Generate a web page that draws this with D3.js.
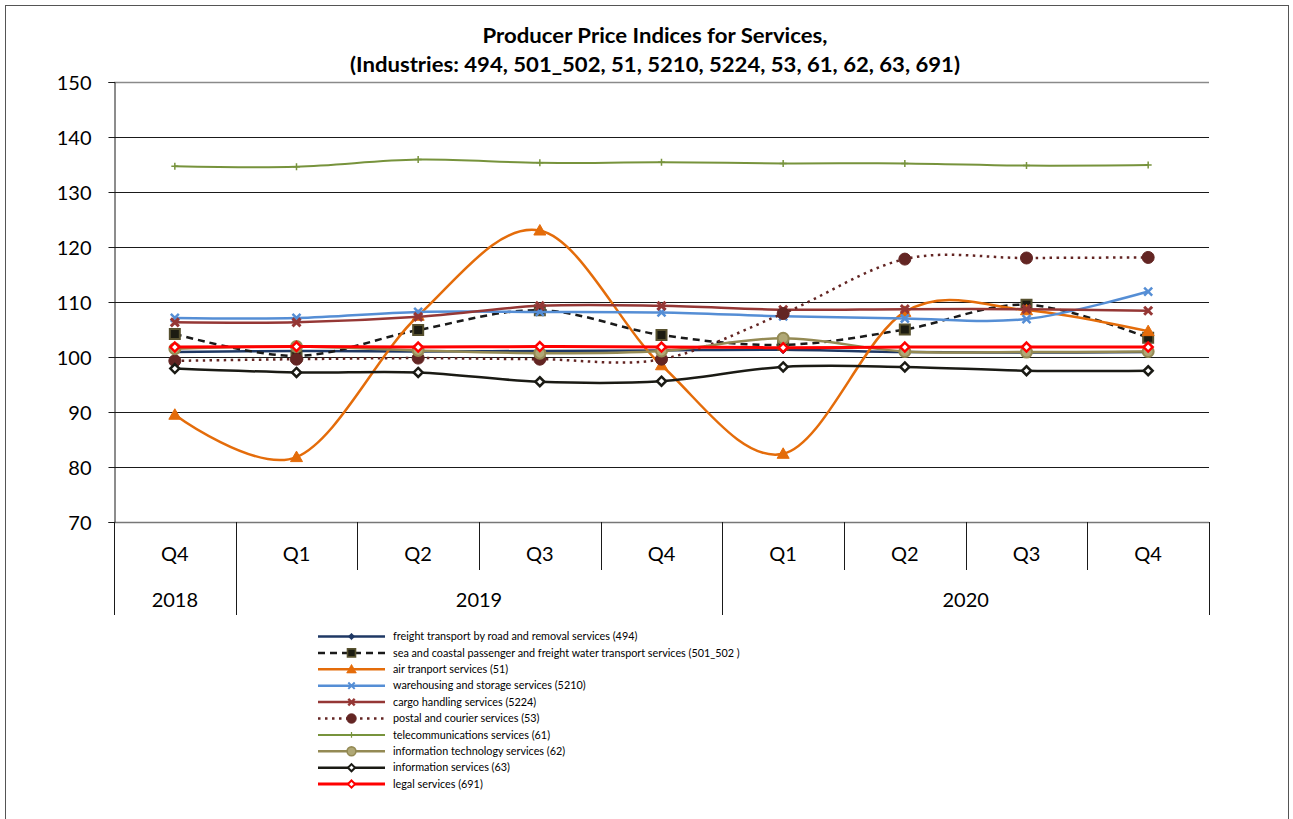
<!DOCTYPE html>
<html>
<head>
<meta charset="utf-8">
<script src="https://cdn.jsdelivr.net/npm/d3@7"></script>
<style>
html,body{margin:0;padding:0;background:#fff;}
svg{display:block;font-family:Lato,"Open Sans",sans-serif;}
</style>
</head>
<body>
<svg id="chart" width="1293" height="819"></svg>
<script>
// ---- data ----
const quarters = ["Q4","Q1","Q2","Q3","Q4","Q1","Q2","Q3","Q4"];
const years = [{label:"2018", from:0, to:0},{label:"2019", from:1, to:4},{label:"2020", from:5, to:8}];
const yTicks = [70,80,90,100,110,120,130,140,150];

const freight494   = [100.9,101.1,101.0,101.1,101.2,101.3,100.9,100.8,100.9];
const sea501_502   = [104.2,100.2,104.9,108.5,104.0,102.2,105.0,109.5,103.5];
const air51        = [89.5,81.8,107.5,123.0,98.5,82.4,108.2,108.5,104.7];
const warehouse5210= [107.1,107.1,108.2,108.2,108.1,107.4,107.0,106.9,111.9];
const cargo5224    = [106.3,106.3,107.3,109.3,109.3,108.6,108.7,108.7,108.4];
const postal53     = [99.3,99.6,99.8,99.6,99.6,107.9,117.8,118.0,118.1];
const telecom61    = [134.7,134.6,135.9,135.3,135.4,135.2,135.2,134.8,134.9];
const it62         = [101.5,101.9,101.2,100.7,101.1,103.4,101.0,100.9,101.0];
const info63       = [97.9,97.2,97.2,95.5,95.6,98.2,98.2,97.5,97.5];
const legal691     = [101.8,101.9,101.8,101.9,101.8,101.7,101.8,101.8,101.8];

const seriesNames = [
 "freight transport by road and removal services (494)",
 "sea and coastal passenger and freight water transport services (501_502 )",
 "air tranport services (51)",
 "warehousing and storage services (5210)",
 "cargo handling services (5224)",
 "postal and courier services (53)",
 "telecommunications services (61)",
 "information technology services (62)",
 "information services (63)",
 "legal services (691)"
];
const seriesValues = [freight494, sea501_502, air51, warehouse5210, cargo5224, postal53, telecom61, it62, info63, legal691];

(function(){
// ---- styles ----
const styles = [
 {color:"#1F3864", width:2.5, dash:null, marker:"diamond", size:4, fill:"#1F3864", mstroke:"#1F3864", msw:1},
 {color:"#1a1a1a", width:2.5, dash:"7,5", marker:"square", size:5, fill:"#1c1c12", mstroke:"#57512f", msw:2},
 {color:"#E46C0A", width:2.5, dash:null, marker:"triangle", size:6, fill:"#E46C0A", mstroke:"#E46C0A", msw:1},
 {color:"#558ED5", width:2.5, dash:null, marker:"x", size:4, fill:"none", mstroke:"#558ED5", msw:2.5},
 {color:"#953735", width:2.5, dash:null, marker:"x", size:4, fill:"none", mstroke:"#953735", msw:3},
 {color:"#632523", width:2.5, dash:"2.5,4.5", marker:"circle", size:6, fill:"#632523", mstroke:"#632523", msw:1},
 {color:"#77933C", width:2, dash:null, marker:"plus", size:3.5, fill:"none", mstroke:"#77933C", msw:1.5},
 {color:"#948A54", width:2.5, dash:null, marker:"circle", size:5.5, fill:"#b0a876", mstroke:"#948A54", msw:2},
 {color:"#1a1a14", width:2.5, dash:null, marker:"diamond", size:4.5, fill:"#ffffff", mstroke:"#1a1a14", msw:2.5},
 {color:"#FF0000", width:3, dash:null, marker:"diamond", size:4.5, fill:"#ffffff", mstroke:"#FF0000", msw:2.5}
];

function markerPath(type, s){
  switch(type){
    case "diamond": return `M0,${-s}L${s},0L0,${s}L${-s},0Z`;
    case "square": return `M${-s},${-s}H${s}V${s}H${-s}Z`;
    case "triangle": return `M0,${-s}L${s},${s*0.75}L${-s},${s*0.75}Z`;
    case "x": return `M${-s},${-s}L${s},${s}M${s},${-s}L${-s},${s}`;
    case "plus": return `M${-s},0H${s}M0,${-s}V${s}`;
    case "circle": return `M${s},0A${s},${s} 0 1,1 ${-s},0A${s},${s} 0 1,1 ${s},0Z`;
  }
}

const svg = d3.select("#chart");

// outer border
svg.append("rect").attr("x",5.5).attr("y",5.5).attr("width",1283).attr("height",840)
  .attr("fill","none").attr("stroke","#555").attr("stroke-width",1);

const pL = 114, pR = 1209, pT = 82, pB = 522;
const x = d3.scaleBand().domain(d3.range(quarters.length)).range([pL,pR]);
const y = d3.scaleLinear().domain([70,150]).range([pB,pT]);
const cx = i => x(i) + x.bandwidth()/2;

// title
svg.append("text").attr("x",655).attr("y",43).attr("text-anchor","middle")
  .attr("font-weight","bold").attr("font-size",21).attr("fill","#000")
  .attr("textLength",345).attr("lengthAdjust","spacingAndGlyphs")
  .text("Producer Price Indices for Services,");
svg.append("text").attr("x",655).attr("y",72).attr("text-anchor","middle")
  .attr("font-weight","bold").attr("font-size",21).attr("fill","#000")
  .attr("textLength",610).attr("lengthAdjust","spacingAndGlyphs")
  .text("(Industries: 494, 501_502, 51, 5210, 5224, 53, 61, 62, 63, 691)");

// gridlines
svg.append("g").selectAll("line").data(yTicks).join("line")
  .attr("x1",pL).attr("x2",pR)
  .attr("y1",d=>Math.round(y(d))+0.5).attr("y2",d=>Math.round(y(d))+0.5)
  .attr("stroke",d=> d===150 ? "#8a8a8a" : (d===70 ? "#777" : "#1a1a1a"))
  .attr("stroke-width",d=> (d===150||d===70) ? 1.6 : 1);

// y axis
const yAxis = d3.axisLeft(y).tickValues(yTicks).tickSize(6).tickPadding(17).tickFormat(d3.format("d"));
const ya = svg.append("g").attr("transform",`translate(${pL+0.5},0)`).call(yAxis);
ya.select(".domain").attr("stroke","#1a1a1a");
ya.selectAll(".tick line").attr("stroke","#1a1a1a");
ya.selectAll(".tick text").attr("font-size",20).attr("font-family","Lato,sans-serif").attr("fill","#000").attr("dy","0.35em");

// category axis (multi-level)
const xa = svg.append("g");
const seps = d3.range(quarters.length+1);
xa.selectAll("line.q").data(seps).join("line")
  .attr("x1",i=> Math.round(i<quarters.length ? x(i) : pR)+0.5)
  .attr("x2",i=> Math.round(i<quarters.length ? x(i) : pR)+0.5)
  .attr("y1",pB).attr("y2",i=>{
     const isYear = i===0 || i===quarters.length || years.some(yv=>yv.from===i);
     return isYear ? 615 : 570;
  })
  .attr("stroke","#1a1a1a").attr("stroke-width",1);
xa.selectAll("text.q").data(quarters).join("text")
  .attr("x",(d,i)=>cx(i)).attr("y",561).attr("text-anchor","middle")
  .attr("font-size",20).attr("fill","#000").text(d=>d);
xa.selectAll("text.yr").data(years).join("text")
  .attr("x",d=> (x(d.from) + x(d.to) + x.bandwidth())/2).attr("y",607).attr("text-anchor","middle")
  .attr("font-size",20).attr("fill","#000").text(d=>d.label);

// lines
const line = d3.line().x((d,i)=>cx(i)).y(d=>y(d)).curve(d3.curveCardinal.tension(0));
const plot = svg.append("g");
seriesValues.forEach((vals, k)=>{
  const st = styles[k];
  const g = plot.append("g");
  g.append("path").datum(vals).attr("d",line).attr("fill","none")
    .attr("stroke",st.color).attr("stroke-width",st.width)
    .attr("stroke-dasharray",st.dash).attr("stroke-linejoin","round");
  g.selectAll("path.m").data(vals).join("path").attr("class","m")
    .attr("transform",(d,i)=>`translate(${cx(i)},${y(d)})`)
    .attr("d",markerPath(st.marker, st.size))
    .attr("fill",st.fill).attr("stroke",st.mstroke).attr("stroke-width",st.msw);
});

// legend
const lg = svg.append("g");
seriesNames.forEach((name,k)=>{
  const st = styles[k];
  const yy = 636.5 + k*16.4;
  lg.append("line").attr("x1",318).attr("x2",385).attr("y1",yy).attr("y2",yy)
    .attr("stroke",st.color).attr("stroke-width",st.width).attr("stroke-dasharray",st.dash);
  lg.append("path").attr("transform",`translate(351.5,${yy})`)
    .attr("d",markerPath(st.marker, st.size*0.8))
    .attr("fill",st.fill).attr("stroke",st.mstroke).attr("stroke-width",st.msw*0.8);
  lg.append("text").attr("x",393).attr("y",yy).attr("dy","0.35em")
    .attr("font-size",10.8).attr("fill","#000").text(name);
});
})();
</script>
</body>
</html>
